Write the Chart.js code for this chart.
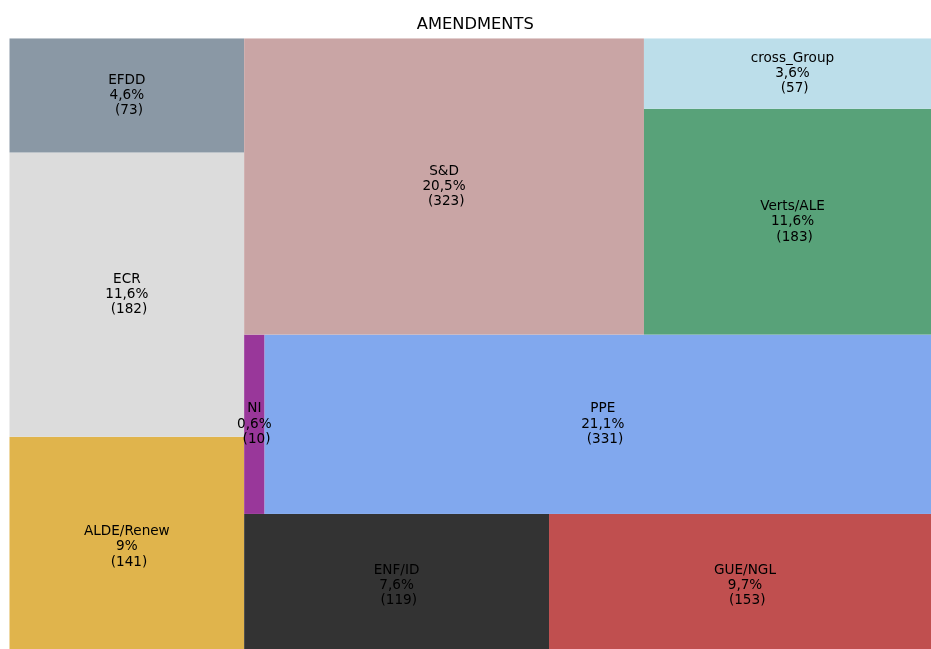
<!DOCTYPE html>
<html>
<head>
<meta charset="utf-8">
<script src="https://cdn.jsdelivr.net/npm/chart.js@4.4.1/dist/chart.umd.min.js"></script>
<style>
  html, body { margin: 0; padding: 0; overflow: hidden; background: #fff; }
  #wrap { position: absolute; left: 0; top: 0; width: 941px; height: 657px; }
</style>
</head>
<body>
<div id="wrap"><canvas id="chart"></canvas></div>
<script>
// groups (alphabetical, same order squarify got them)
let groups = ["ALDE/Renew", "ECR", "EFDD", "ENF/ID", "GUE/NGL", "NI", "PPE", "S&D", "Verts/ALE", "cross_Group"];
let amendments = [141, 182, 73, 119, 153, 10, 331, 323, 183, 57];
let groupColors = ["#e0b44c", "#dcdcdc", "#8a98a5", "#333333", "#c04f4f", "#99379a", "#81a8ee", "#c9a5a5", "#58a279", "#bcdeea"];

let total = amendments.reduce((a, b) => a + b, 0);

// squarify layout (same algorithm as python squarify), in 100x100 data units
function sum(arr) { return arr.reduce((a, b) => a + b, 0); }
function layoutRow(sizes, x, y, dx, dy) {
  let w = sum(sizes) / dy;
  let rects = [];
  sizes.forEach((s) => { rects.push({x: x, y: y, dx: w, dy: s / w}); y += s / w; });
  return rects;
}
function layoutCol(sizes, x, y, dx, dy) {
  let h = sum(sizes) / dx;
  let rects = [];
  sizes.forEach((s) => { rects.push({x: x, y: y, dx: s / h, dy: h}); x += s / h; });
  return rects;
}
function layout(sizes, x, y, dx, dy) {
  return dx >= dy ? layoutRow(sizes, x, y, dx, dy) : layoutCol(sizes, x, y, dx, dy);
}
function leftover(sizes, x, y, dx, dy) {
  if (dx >= dy) {
    let w = sum(sizes) / dy;
    return [x + w, y, dx - w, dy];
  }
  let h = sum(sizes) / dx;
  return [x, y + h, dx, dy - h];
}
function worstRatio(sizes, x, y, dx, dy) {
  return Math.max(...layout(sizes, x, y, dx, dy).map(r => Math.max(r.dx / r.dy, r.dy / r.dx)));
}
function squarify(sizes, x, y, dx, dy) {
  if (sizes.length === 0) return [];
  if (sizes.length === 1) return layout(sizes, x, y, dx, dy);
  let i = 1;
  while (i < sizes.length && worstRatio(sizes.slice(0, i), x, y, dx, dy) >= worstRatio(sizes.slice(0, i + 1), x, y, dx, dy)) {
    i++;
  }
  let current = sizes.slice(0, i);
  let rest = leftover(current, x, y, dx, dy);
  return layout(current, x, y, dx, dy).concat(squarify(sizes.slice(i), rest[0], rest[1], rest[2], rest[3]));
}

let normSizes = amendments.map(v => v * 100 * 100 / total);
let rects = squarify(normSizes, 0, 0, 100, 100);

let labels = groups.map((g, i) => {
  let pct = (Math.round(amendments[i] / total * 1000) / 10).toString().replace('.', ',');
  return [g, pct + '%', ' (' + amendments[i] + ')'];
});

// draws the tiles using the chart's x / y scales
const treemapPlugin = {
  id: 'treemapTiles',
  beforeDatasetsDraw(chart) {
    const ctx = chart.ctx;
    const xs = chart.scales.x;
    const ys = chart.scales.y;
    ctx.save();
    rects.forEach((r, i) => {
      let x0 = xs.getPixelForValue(r.x);
      let x1 = xs.getPixelForValue(r.x + r.dx);
      let y0 = ys.getPixelForValue(r.y + r.dy);
      let y1 = ys.getPixelForValue(r.y);
      ctx.fillStyle = groupColors[i];
      ctx.fillRect(x0, y0, x1 - x0, y1 - y0);
    });
    ctx.font = '13.6px "DejaVu Sans"';
    ctx.fillStyle = '#000';
    ctx.textAlign = 'center';
    ctx.textBaseline = 'middle';
    rects.forEach((r, i) => {
      let cx = xs.getPixelForValue(r.x + r.dx / 2);
      let cy = ys.getPixelForValue(r.y + r.dy / 2);
      labels[i].forEach((line, k) => {
        ctx.fillText(line, cx, cy + (k - 1) * 15.3);
      });
    });
    ctx.restore();
  }
};

let chart = new Chart('chart', {
  type: 'scatter',
  data: {
    datasets: [{
      label: 'AMENDMENTS',
      data: rects.map(r => ({x: r.x + r.dx / 2, y: r.y + r.dy / 2})),
      pointRadius: 0
    }]
  },
  options: {
    responsive: true,
    maintainAspectRatio: false,
    animation: false,
    layout: { padding: { left: 9.5, right: 0, top: 0, bottom: 0 } },
    scales: {
      x: { display: false, min: 0, max: 100 },
      y: { display: false, min: 0, max: 100 }
    },
    plugins: {
      legend: { display: false },
      tooltip: { enabled: false },
      title: {
        display: true,
        text: 'AMENDMENTS',
        color: '#000',
        font: { family: 'DejaVu Sans', size: 16.3, weight: 'normal', lineHeight: 1.2 },
        padding: { top: 14.7, bottom: 4.2 }
      }
    }
  },
  plugins: [treemapPlugin]
});
</script>
</body>
</html>
